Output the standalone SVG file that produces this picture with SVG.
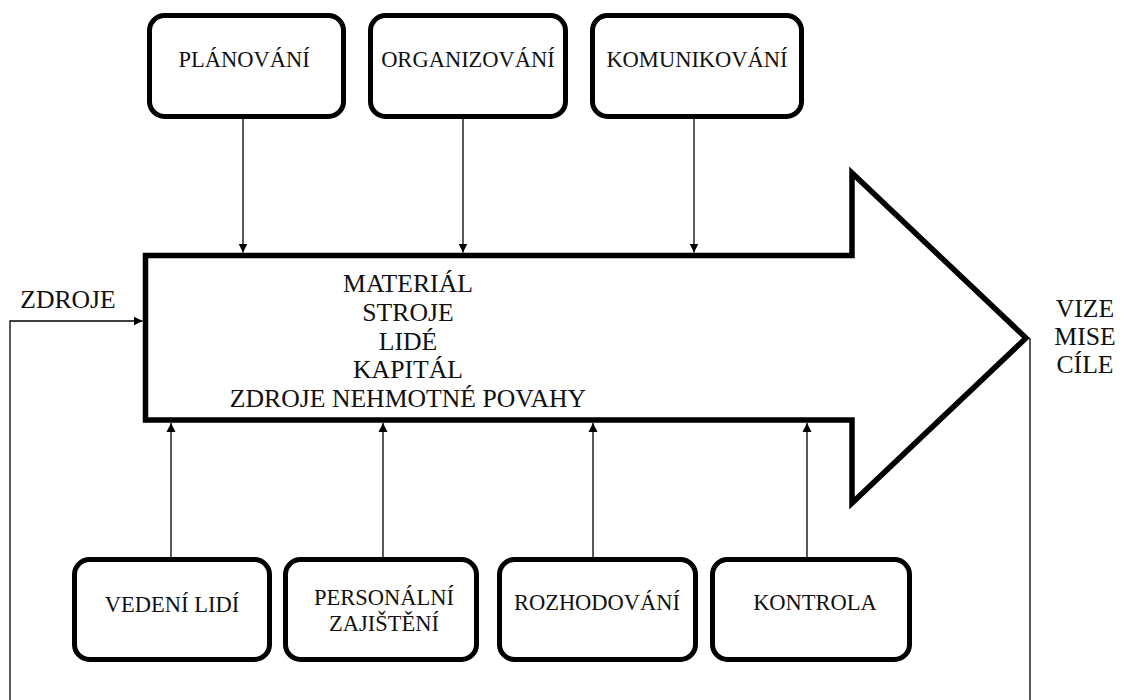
<svg xmlns="http://www.w3.org/2000/svg" width="1141" height="700" viewBox="0 0 1141 700">
  <defs>
    <marker id="tri" viewBox="0 0 10 10" refX="10" refY="5" markerWidth="9" markerHeight="11" markerUnits="userSpaceOnUse" orient="auto">
      <path d="M0,0 L10,5 L0,10 Z" fill="#000"/>
    </marker>
    <style>
      .box { fill: #fff; stroke: #000; stroke-width: 5; }
      .lbl { font-family: "Liberation Serif", "Times New Roman", serif; font-size: 22.5px; fill: #111; text-anchor: middle; }
      .big { font-family: "Liberation Serif", "Times New Roman", serif; font-size: 25.7px; fill: #111; text-anchor: middle; }
      .wire { fill: none; stroke: #000; stroke-width: 1.3; }
    </style>
  </defs>
  <rect width="1141" height="700" fill="#fff"/>

  <!-- main process arrow -->
  <g id="process">
    <polygon points="145.5,255.5 852,255.5 852,173 1026,338 852,503 852,420 145.5,420" fill="#fff" stroke="#000" stroke-width="5.5" stroke-linejoin="miter" stroke-miterlimit="10"/>
    <text class="big" x="408" y="292">MATERIÁL</text>
    <text class="big" x="408" y="321">STROJE</text>
    <text class="big" x="408" y="350">LIDÉ</text>
    <text class="big" x="408" y="378">KAPITÁL</text>
    <text class="big" x="408" y="407">ZDROJE NEHMOTNÉ POVAHY</text>
  </g>

  <g id="zdroje">
    <text class="big" x="68" y="308">ZDROJE</text>
  </g>

  <g id="vize">
    <text class="big" x="1085" y="317">VIZE</text>
    <text class="big" x="1085" y="345">MISE</text>
    <text class="big" x="1085" y="373">CÍLE</text>
  </g>

  <!-- top functions -->
  <g id="planovani">
    <rect class="box" x="149.5" y="15.5" width="194" height="101" rx="15"/>
    <text class="lbl" x="244" y="67">PLÁNOVÁNÍ</text>
  </g>
  <g id="organizovani">
    <rect class="box" x="370.5" y="15.5" width="195" height="101" rx="15"/>
    <text class="lbl" x="468" y="67">ORGANIZOVÁNÍ</text>
  </g>
  <g id="komunikovani">
    <rect class="box" x="592.5" y="15.5" width="209" height="101" rx="15"/>
    <text class="lbl" x="697" y="67">KOMUNIKOVÁNÍ</text>
  </g>

  <!-- bottom functions -->
  <g id="vedeni-lidi">
    <rect class="box" x="74.5" y="559.5" width="195" height="100" rx="15"/>
    <text class="lbl" x="172" y="612">VEDENÍ LIDÍ</text>
  </g>
  <g id="personalni-zajisteni">
    <rect class="box" x="285.5" y="559.5" width="191" height="100" rx="15"/>
    <text class="lbl" x="384" y="605">PERSONÁLNÍ</text>
    <text class="lbl" x="384" y="631">ZAJIŠTĚNÍ</text>
  </g>
  <g id="rozhodovani">
    <rect class="box" x="499.5" y="559.5" width="196" height="100" rx="15"/>
    <text class="lbl" x="597" y="610">ROZHODOVÁNÍ</text>
  </g>
  <g id="kontrola">
    <rect class="box" x="712.5" y="559.5" width="197" height="100" rx="15"/>
    <text class="lbl" x="815" y="610">KONTROLA</text>
  </g>

  <!-- connectors -->
  <g id="connectors">
    <line class="wire" x1="243" y1="118" x2="243" y2="252.5" marker-end="url(#tri)"/>
    <line class="wire" x1="463" y1="118" x2="463" y2="252.5" marker-end="url(#tri)"/>
    <line class="wire" x1="694" y1="118" x2="694" y2="252.5" marker-end="url(#tri)"/>

    <line class="wire" x1="171" y1="557" x2="171" y2="423" marker-end="url(#tri)"/>
    <line class="wire" x1="383" y1="557" x2="383" y2="423" marker-end="url(#tri)"/>
    <line class="wire" x1="593" y1="557" x2="593" y2="423" marker-end="url(#tri)"/>
    <line class="wire" x1="807" y1="557" x2="807" y2="423" marker-end="url(#tri)"/>

    <!-- feedback loop from the goals back to the resources -->
    <polyline class="wire" points="1030,338 1030,703 10,703 10,321 142.5,321" marker-end="url(#tri)"/>
  </g>
</svg>
